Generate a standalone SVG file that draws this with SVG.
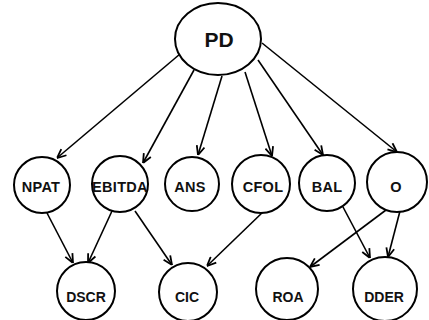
<svg xmlns="http://www.w3.org/2000/svg" width="429" height="320" viewBox="0 0 429 320">
<style>
.n{fill:#fff;stroke:#000;stroke-width:2}
.t{font-family:"Liberation Sans",Arial,sans-serif;font-weight:bold;font-size:14px;text-anchor:middle;fill:#111}
.r2{font-size:14.5px;letter-spacing:0.3px}
.c line{stroke:#000;stroke-width:1.6;marker-end:url(#a)}
</style>
<defs>
<marker id="a" viewBox="0 0 10 10" refX="10" refY="5" markerWidth="10" markerHeight="10" markerUnits="userSpaceOnUse" orient="auto">
<path d="M1,1 L10,5 L1,9" fill="none" stroke="#000" stroke-width="1.8"/>
</marker>
</defs>
<rect width="429" height="320" fill="#fff"/>
<g class="c">
<line x1="180" y1="54" x2="57" y2="158"/>
<line x1="194" y1="70" x2="143" y2="163"/>
<line x1="222" y1="76" x2="198" y2="155"/>
<line x1="245" y1="72" x2="272" y2="156"/>
<line x1="258" y1="60" x2="323" y2="155"/>
<line x1="262" y1="43" x2="397" y2="152"/>
<line x1="47" y1="213" x2="73" y2="263"/>
<line x1="112" y1="211" x2="88" y2="263"/>
<line x1="135" y1="211" x2="172" y2="265"/>
<line x1="264" y1="211" x2="207" y2="266"/>
<line x1="343" y1="207" x2="370" y2="258"/>
<line x1="386" y1="210" x2="310" y2="267"/>
<line x1="400" y1="211" x2="388" y2="257"/>
</g>
<g id="PD"><ellipse class="n" cx="218" cy="39" rx="43" ry="36"/><text class="t" x="219" y="47" style="font-size:21px">PD</text></g>
<g id="NPAT"><circle class="n" cx="42" cy="185" r="28"/><text class="t r2" x="41" y="192">NPAT</text></g>
<g id="EBITDA"><circle class="n" cx="120" cy="184" r="28"/><text class="t r2" x="120" y="192">EBITDA</text></g>
<g id="ANS"><circle class="n" cx="192" cy="184" r="27"/><text class="t r2" x="190" y="192">ANS</text></g>
<g id="CFOL"><circle class="n" cx="261" cy="184" r="29"/><text class="t r2" x="263" y="192">CFOL</text></g>
<g id="BAL"><circle class="n" cx="327" cy="183" r="28"/><text class="t r2" x="327" y="192">BAL</text></g>
<g id="O"><circle class="n" cx="397" cy="182" r="30"/><text class="t r2" x="396" y="192">O</text></g>
<g id="DSCR"><circle class="n" cx="86" cy="291" r="29"/><text class="t" x="86" y="302">DSCR</text></g>
<g id="CIC"><circle class="n" cx="188" cy="292" r="29"/><text class="t" x="187" y="302">CIC</text></g>
<g id="ROA"><circle class="n" cx="287" cy="289" r="31"/><text class="t" x="288" y="302">ROA</text></g>
<g id="DDER"><circle class="n" cx="385" cy="289" r="32"/><text class="t" x="384" y="302">DDER</text></g>
</svg>
